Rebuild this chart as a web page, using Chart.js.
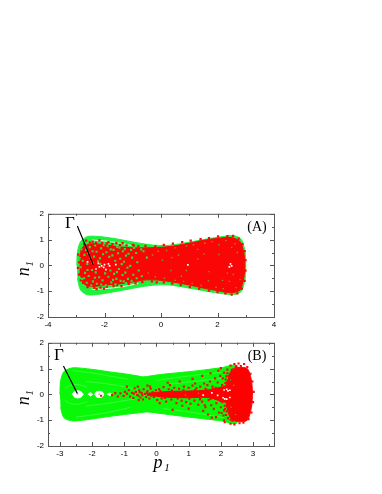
<!DOCTYPE html>
<html>
<head>
<meta charset="utf-8">
<script src="https://cdn.jsdelivr.net/npm/chart.js@4"></script>
<style>
    html, body { margin: 0; padding: 0; background: #fff; }
    #page { position: relative; width: 382px; height: 494px; overflow: hidden; }
    canvas { position: absolute; left: 0; filter: blur(0.35px); }
</style>
</head>
<body>
<div id="page">
    <canvas id="chartA"></canvas>
    <canvas id="chartB"></canvas>
</div>
<script>
// tick positions
const ticksAx = [-4, -3, -2, -1, 0, 1, 2, 3, 4];
const ticksBx = [-3, -2.5, -2, -1.5, -1, -0.5, 0, 0.5, 1, 1.5, 2, 2.5, 3, 3.5];
const ticksY = [-2, -1.5, -1, -0.5, 0, 0.5, 1, 1.5, 2];

// outline of the green orbits
const greenA = [[-2.98,0],[-2.96,0.5],[-2.85,0.92],[-2.6,1.12],[-2.2,1.12],[-1.7,1.05],[-1.2,0.95],[-0.7,0.85],[-0.2,0.78],[0.3,0.78],[1,0.9],[1.6,1.02],[2.2,1.12],[2.6,1.15],[2.85,1],[2.98,0.5],[3,0],[2.98,-0.5],[2.85,-1],[2.6,-1.13],[2.2,-1.1],[1.6,-1],[1,-0.88],[0.3,-0.76],[-0.2,-0.76],[-0.7,-0.83],[-1.2,-0.93],[-1.7,-1.03],[-2.2,-1.12],[-2.6,-1.14],[-2.85,-0.95],[-2.96,-0.5]];
const greenB = [[-3,0],[-2.98,0.5],[-2.88,0.88],[-2.6,1.03],[-2,0.97],[-1.5,0.88],[-1,0.8],[-0.6,0.72],[-0.4,0.68],[0,0.75],[0.5,0.82],[1,0.88],[1.5,0.95],[2,1.03],[2.5,1.1],[2.5,-1.1],[2,-1.02],[1.5,-0.95],[1,-0.88],[0.5,-0.8],[0,-0.72],[-0.3,-0.68],[-0.6,-0.72],[-1,-0.78],[-1.5,-0.86],[-2,-0.95],[-2.6,-1.03],[-2.88,-0.9],[-2.98,-0.5]];

// solid parts of the red clouds
const coreA = [[-2.88,0.3],[-2.78,0.7],[-2.45,0.84],[-2,0.8],[-1.5,0.72],[-1,0.68],[-0.5,0.68],[0,0.7],[0.5,0.76],[1,0.86],[1.5,0.97],[2,1.05],[2.5,1.08],[2.8,0.92],[2.93,0.5],[2.97,0],[2.93,-0.5],[2.8,-0.95],[2.5,-1.06],[2,-0.98],[1.5,-0.88],[1,-0.76],[0.5,-0.66],[0,-0.58],[-0.5,-0.56],[-1,-0.64],[-1.5,-0.72],[-2,-0.76],[-2.45,-0.82],[-2.72,-0.72],[-2.88,-0.3]];
const coreB = [[2.3,0.9],[2.5,1.04],[2.82,1],[2.94,0.6],[2.98,0.1],[2.95,-0.5],[2.82,-1],[2.55,-1.06],[2.3,-0.92],[2.18,-0.45],[2.14,-0.1],[2.14,0.15],[2.18,0.5]];
const wedgeB = [[-0.3,0.04],[0.3,0.11],[1,0.13],[1.6,0.17],[2.25,0.3],[2.25,-0.3],[1.6,-0.12],[1,-0.13],[0.3,-0.11],[-0.3,-0.03]];

// red points roughening the cloud edge, panel A
const redA = [
[-2.65,0.96],[-2.42,0.92],[-2.18,0.97],[-1.86,0.9],[-1.58,0.86],[-2.72,0.82],[-2.52,0.88],[-2.3,0.87],[-2.08,0.86],[-1.92,0.85],[-1.72,0.82],[-1.45,0.8],[-1.22,0.78],[-1,0.8],[-0.8,0.74],[-0.55,0.76],[-1.36,0.86],[-0.96,0.77],
[-2.93,0.42],[-2.9,0.12],[-2.94,-0.1],[-2.9,-0.36],[-2.82,0.6],[-2.84,-0.58],[-2.76,-0.68],
[-2.6,-0.84],[-2.36,-0.87],[-2.14,-0.86],[-1.92,-0.82],[-1.68,-0.8],[-1.4,-0.8],[-2.28,-0.92],[-2.02,-0.9],[-1.14,-0.73],[-0.9,-0.7],[-0.66,-0.65],[-0.32,-0.62],[-1.56,-0.76],[-2.52,-0.76],
[-0.2,0.74],[0.1,0.8],[0.42,0.84],[0.75,0.9],[1.05,0.96],[1.4,1.02],[1.7,1.06],[2.02,1.12],[2.35,1.13],[2.55,1.14],[2.75,1.04],[2.88,0.82],[2.96,0.55],[2.99,0.2],[2.99,-0.2],[2.96,-0.6],[2.86,-0.9],[2.7,-1.08],[2.5,-1.13],[2.28,-1.08],[2,-1.04],[1.7,-0.98],[1.35,-0.9],[1.02,-0.84],[0.7,-0.76],[0.4,-0.7],[0.1,-0.66],[-0.15,-0.66]
];
// green showing through the red, left of panel A
const specksGreenA = [
[-2.82,0.62],[-2.71,0.41],[-2.77,0.18],[-2.84,-0.07],[-2.69,-0.29],[-2.79,-0.52],[-2.63,-0.67],[-2.52,0.71],[-2.57,0.47],[-2.49,0.29],[-2.61,0.06],[-2.44,-0.18],[-2.56,-0.41],[-2.41,-0.62],
[-2.33,0.77],[-2.28,0.53],[-2.37,0.34],[-2.23,0.16],[-2.31,-0.27],[-2.19,-0.46],[-2.27,-0.71],[-2.12,0.66],[-2.05,0.43],[-2.16,0.27],[-1.98,-0.31],[-2.07,-0.58],[-1.95,-0.77],[-1.89,0.74],[-1.93,0.51],[-1.83,0.33],
[-1.79,-0.2],[-1.86,-0.44],[-1.76,-0.66],[-1.68,0.6],[-1.72,0.39],[-1.62,0.18],[-1.66,-0.33],[-1.58,-0.52],[-1.61,-0.73],[-1.47,0.69],[-1.52,0.47],[-1.44,0.26],[-1.39,0.05],[-1.49,-0.14],[-1.36,-0.37],[-1.43,-0.6],
[-1.28,0.63],[-1.24,0.38],[-1.31,0.14],[-1.19,-0.09],[-1.26,-0.28],[-1.17,-0.52],[-1.24,-0.68],[-1.06,0.6],[-1.02,0.3],[-1.09,-0.02],[-0.98,-0.36],[-1.04,-0.6],[-0.88,0.48],[-0.84,0.12],[-0.79,-0.2],[-0.86,-0.5],[-0.62,0.55],[-0.68,-0.42],[-0.5,0.3],
[-2.88,0.28],[-2.65,0.6],[-2.42,0.55],[-2.6,-0.18],[-2.72,-0.5],[-2.47,-0.78],[-2.12,-0.74],[-2.03,0.78],[-1.78,0.62],[-1.55,0.72],[-2.42,0.1],[-1.35,0.55],[-1.7,-0.56],[-2.34,-0.48],[-2.15,0.06],[-1.15,0.45],[-1.56,-0.26],[-1.32,-0.62],[-0.95,0.68],[-0.7,0.62]
];
// darker, half covered specks in the dense part of panel A
const specksOliveA = [[-0.3,0.4],[-0.1,0.55],[0.2,0.58],[0.5,0.68],[0.62,0.4],[0.9,0.75],[1.15,0.8],[1.3,0.62],[1.55,0.86],[1.8,0.92],[2.05,0.8],[2.3,0.96],[2.62,0.84],[0.05,0.2],[-0.45,-0.3],[-0.2,-0.44],[0.12,-0.5],[0.35,-0.2],[0.5,-0.58],[0.8,-0.62],[1.1,-0.7],[1.42,-0.78],[1.68,-0.6],[1.95,-0.85],[2.2,-0.9],[2.42,-0.62],[2.66,-0.86],[2.35,-0.3],[2.7,0.5],[2.05,0.42],[1.3,0.25],[0.9,-0.2],[1.7,-0.24],[2.5,0.7],[2.18,-0.58],[2.8,-0.55],[2.56,-0.35],[1.52,0.44],[0.38,0.3],[0.72,-0.42]];
const specksWhiteA = [[-2.22,0.08],[-2.1,-0.02],[-2,0.03],[-1.82,-0.02],[-2.3,-0.14],[-1.95,-0.16],[-2.18,-0.06],[-2.6,0.14],[-1.86,0.06],[-1.6,0.03],[-2.03,-0.08],[2.46,0.06],[2.5,-0.02],[2.42,-0.06],[0.95,0.02]];

// red points, panel B
const redB = [
[-1.72,-0.05],[-1.38,-0.03],[-1.12,0.04],[-1.02,-0.06],[-0.98,0.1],[-0.92,0.02],[-0.86,0.16],[-0.82,-0.08],[-0.76,0.06],[-0.72,-0.14],[-0.68,0.24],[-0.64,0.1],[-0.6,-0.02],[-0.58,0.3],[-0.54,0.16],[-0.5,-0.12],[-0.46,0.06],[-0.42,-0.2],[-0.4,0.2],[-0.36,0.02],[-0.32,-0.1],[-0.28,0.12],[-0.22,-0.16],[-0.18,0.22],[-0.12,0.08],[-0.08,-0.1],[-0.02,0.16],[0.02,-0.22],[0.08,0.2],[0.16,-0.16],
[-0.7,0.03],[-0.56,-0.05],[-0.44,-0.03],[-0.52,0.09],[-0.3,0.07],[-0.16,-0.05],[0.12,0.14],[0.26,-0.14],[0.48,0.15],[0.66,-0.16],[0.84,0.16],[1.02,-0.17],[1.2,0.17],[1.36,-0.16],[1.52,0.22],[1.68,-0.18],[1.84,0.26],[2,-0.26],
[0.22,0.28],[0.3,-0.28],[0.38,0.2],[0.46,-0.2],[0.55,0.26],[0.62,-0.34],[0.7,0.22],[0.78,-0.24],[0.85,0.3],[0.92,-0.3],[1,0.26],[1.06,-0.36],[1.12,0.34],[1.18,-0.24],[1.24,0.24],[1.3,-0.4],[1.36,0.3],[1.42,-0.28],[1.48,0.42],[1.52,-0.5],[1.58,0.36],[1.62,-0.22],[1.66,0.5],[1.7,-0.42],[1.74,0.3],[1.78,-0.56],[1.82,0.62],[1.86,-0.34],[1.9,0.46],[1.94,-0.7],[1.98,0.72],[2,-0.5],[2.04,0.36],[2.08,-0.82],[2.1,0.84],[2.12,-0.44],[2.15,0.58],[2.18,-0.66],[2.2,0.96],[2.22,-0.92],[2.24,0.72],[2.26,-0.6],
[2.14,0.44],[2.17,0.7],[2.2,0.82],[2.13,-0.56],[2.16,-0.8],[2.2,-0.48],[2.28,0.62],[2.3,0.42],[2.22,0.36],[2.3,-0.72],[2.28,-0.44],[2.34,0.72],[2.38,0.96],[2.32,-0.82],[2.42,-1],[2.46,1.04],[2.36,-1.02],[2.06,0.62],[2.02,-0.72],[2.1,-0.62],
[1.68,0.82],[1.92,0.92],[2,1.02],[2.3,1.12],[2.42,1.18],[2.48,1.1],[2.62,1.1],[2.72,1.18],[2.82,1.06],[2.55,1.2],[1.42,0.72],[1.12,0.6],[0.72,0.5],[0.35,0.45],[-0.28,0.34],[-0.92,0.3],[0.5,-0.6],[1,-0.55],[1.45,-0.64],[1.6,-0.78],[1.85,-0.88],[2.12,-1.08],[2.3,-1.14],[2.42,-1.16],[2.58,-1.12],[2.7,-1.1],[2.86,-0.96],[2.95,-0.7],[3,-0.3],[3.02,0.1],[2.98,0.5],[2.92,0.8],[2.3,-0.98],[2.34,0.95],[2.28,0.8],[2.2,0.46],[2.16,-0.28],[1.95,-0.22],[1.75,0.22],[1.55,0.18],[1.35,-0.2],[2.12,0.3],[2.05,-0.3],[1.88,-0.16],[1.65,0.14],[2.1,-1],[1.72,-0.9],[1.5,-0.42],[1.2,0.42],[0.8,-0.44],[0.42,0.36],[0.1,-0.34],[-0.55,-0.22],[-0.2,0.3],[-1.28,0.05],[-1.2,-0.08]
];
const specksWhiteB = [[2.18,0.2],[2.28,0.16],[2.1,0.17],[2.22,0.14],[2.07,-0.13],[2.18,-0.18],[2.28,-0.12],[2.12,-0.17],[1.72,0.06],[1.45,-0.03],[1.9,-0.04]];
const specksGreenB = [[2.4,0.35],[2.32,-0.5],[2.45,-0.78],[2.3,0.55],[1.3,0.04],[0.9,-0.03]];

// pale gaps between the orbits
const gapA1 = [[-2.45,0.98],[-2,0.95],[-1.5,0.87],[-1,0.76]];
const gapA2 = [[-2.45,-0.93],[-2,-0.9],[-1.4,-0.83],[-0.8,-0.7]];
const gapB1 = [[-2.6,0.92],[-2,0.83],[-1.4,0.7],[-0.9,0.6]];
const gapB2 = [[-2.2,0.5],[-1.6,0.42],[-1,0.3],[-0.6,0.2]];
const gapB3 = [[0,0.55],[0.6,0.65],[1.3,0.76],[2,0.85]];
const gapB4 = [[-2.5,-0.88],[-1.8,-0.76],[-1.2,-0.62],[-0.8,-0.5]];
const gapB5 = [[0.2,-0.55],[0.9,-0.66],[1.5,-0.78],[2.1,-0.9]];
const gapB6 = [[0.4,0.4],[1,0.48],[1.5,0.55],[2,0.62]];
const gapB7 = [[-2.2,-0.45],[-1.6,-0.36],[-1,-0.24],[-0.7,-0.18]];
const haloB1 = [[-2.85,0.22],[-2.7,0.34],[-2.45,0.38],[-2.15,0.28]];
const haloB2 = [[-2.85,-0.22],[-2.7,-0.34],[-2.45,-0.38],[-2.15,-0.28]];

// white holes around the fixed points, panel B
const holeB1 = [[-2.62,0],[-2.56,0.1],[-2.45,0.14],[-2.34,0.1],[-2.28,0],[-2.34,-0.1],[-2.45,-0.14],[-2.56,-0.1]];
const holeB2 = [[-1.92,0],[-1.88,0.09],[-1.78,0.12],[-1.68,0.09],[-1.64,0],[-1.68,-0.09],[-1.78,-0.12],[-1.88,-0.09]];
const holeB3 = [[-2.13,0],[-2.06,0.07],[-1.99,0],[-2.06,-0.07]];
const holeB4 = [[-1.54,0],[-1.46,0.05],[-1.38,0],[-1.46,-0.05]];
const centersB = [[-2.45,0.02],[-1.78,0.01]];

const leaderA = [[-2.96, 1.53], [-2.4, 0.03]];
const leaderB = [[-2.89, 1.1], [-2.46, 0.04]];

const toPoints = rows => rows.map(r => ({ x: r[0], y: r[1] }));

function shape(rows, color) {
    return { data: toPoints(rows), showLine: true, fill: "shape", backgroundColor: color, borderColor: color, borderWidth: 1, pointRadius: 0, tension: 0.25 };
}
function curve(rows, color, width) {
    return { data: toPoints(rows), showLine: true, fill: false, borderColor: color, borderWidth: width, pointRadius: 0, tension: 0.4 };
}
function dots(rows, color, radius) {
    return { data: toPoints(rows), showLine: false, pointStyle: "rect", pointRadius: radius, pointBackgroundColor: color, pointBorderWidth: 0 };
}

// inward ticks, frame and the hand placed labels
const frame = {
    id: "frame",
    afterDraw(chart, args, opts) {
        const { ctx, chartArea: a, scales } = chart;
        ctx.save();
        ctx.strokeStyle = "#555";
        ctx.lineWidth = 1;
        ctx.strokeRect(a.left + 0.5, a.top + 0.5, a.right - a.left, a.bottom - a.top);
        scales.x.ticks.forEach(t => {
            const px = Math.round(scales.x.getPixelForValue(t.value)) + 0.5;
            const len = t.label ? 4 : 2;
            ctx.beginPath();
            ctx.moveTo(px, a.bottom); ctx.lineTo(px, a.bottom - len);
            ctx.moveTo(px, a.top); ctx.lineTo(px, a.top + len);
            ctx.stroke();
        });
        scales.y.ticks.forEach(t => {
            const py = Math.round(scales.y.getPixelForValue(t.value)) + 0.5;
            const len = t.label ? 4 : 2;
            ctx.beginPath();
            ctx.moveTo(a.left, py); ctx.lineTo(a.left + len, py);
            ctx.moveTo(a.right, py); ctx.lineTo(a.right - len, py);
            ctx.stroke();
        });
        ctx.fillStyle = "#000";
        ctx.textAlign = "center";
        ctx.textBaseline = "alphabetic";
        ctx.font = "17px 'Liberation Serif'";
        ctx.fillText("Γ", opts.gammaX, opts.gammaY);
        ctx.font = "14px 'Liberation Serif'";
        ctx.fillText(opts.tag, a.right - 17, a.top + 17);
        // y title
        ctx.save();
        ctx.translate(29, a.top + 58);
        ctx.rotate(-Math.PI / 2);
        ctx.font = "italic 18px 'Liberation Serif'";
        ctx.fillText("n", 0, 0);
        ctx.font = "italic 11px 'Liberation Serif'";
        ctx.fillText("1", 8, 4);
        ctx.restore();
        if (opts.xTitle) {
            ctx.font = "italic 18px 'Liberation Serif'";
            ctx.fillText("p", a.left + 110, a.bottom + 22);
            ctx.font = "italic 11px 'Liberation Serif'";
            ctx.fillText("1", a.left + 119, a.bottom + 25);
        }
        ctx.restore();
    }
};

function makeChart(id, top, height, datasets, xMin, xMax, xTicks, xLabel, opts) {
    const canvas = document.getElementById(id);
    canvas.style.top = top + "px";
    canvas.style.width = "382px";
    canvas.style.height = height + "px";
    canvas.width = 382;
    canvas.height = height;
    return new Chart(canvas, {
        type: "scatter",
        // chart.js paints the first dataset last, so flip the back-to-front lists
        data: { datasets: datasets.slice().reverse() },
        plugins: [frame],
        options: {
            responsive: false,
            animation: false,
            layout: { padding: { left: 0, right: 108, top: 6, bottom: 0 } },
            plugins: { legend: { display: false }, tooltip: { enabled: false }, frame: opts },
            scales: {
                x: {
                    type: "linear",
                    min: xMin,
                    max: xMax,
                    grid: { display: false, drawTicks: false },
                    border: { display: false },
                    afterBuildTicks: s => { s.ticks = xTicks.map(v => ({ value: v })); },
                    afterFit: s => { s.height = height - 6 - 106; },
                    ticks: {
                        autoSkip: false, maxRotation: 0, padding: 3, color: "#000",
                        font: { family: "'Liberation Sans'", size: 8 },
                        callback: xLabel
                    }
                },
                y: {
                    min: -2,
                    max: 2,
                    grid: { display: false, drawTicks: false },
                    border: { display: false },
                    afterBuildTicks: s => { s.ticks = ticksY.map(v => ({ value: v })); },
                    afterFit: s => { s.width = 48; },
                    ticks: {
                        autoSkip: false, padding: 4, color: "#000",
                        font: { family: "'Liberation Sans'", size: 8 },
                        callback: v => Number.isInteger(v) ? String(v) : ""
                    }
                }
            }
        }
    });
}

const datasetsA = [
    shape(greenA, "#1cf23c"),
    curve(gapA1, "#e8ffe8", 1),
    curve(gapA2, "#e8ffe8", 1),
    shape(coreA, "#fa0606"),
    dots(redA, "#f50a0a", 1.6),
    dots(specksGreenA, "#30dc30", 1.5),
    dots(specksOliveA, "#a08a20", 1),
    dots(specksWhiteA, "#ffffff", 1.2),
    curve(leaderA, "#000000", 1.2)
];

const datasetsB = [
    shape(greenB, "#08f808"),
    curve(gapB1, "#5cfb5c", 0.6),
    curve(gapB2, "#5cfb5c", 0.6),
    curve(gapB3, "#5cfb5c", 0.6),
    curve(gapB4, "#5cfb5c", 0.6),
    curve(gapB5, "#5cfb5c", 0.6),
    curve(gapB6, "#5cfb5c", 0.6),
    curve(gapB7, "#5cfb5c", 0.6),
    curve(haloB1, "#5cfb5c", 0.6),
    curve(haloB2, "#5cfb5c", 0.6),
    shape(holeB1, "#ffffff"),
    shape(holeB2, "#ffffff"),
    shape(holeB3, "#eaffea"),
    shape(holeB4, "#eaffea"),
    dots(centersB, "#30e030", 1),
    shape(wedgeB, "#ff0000"),
    shape(coreB, "#ff0000"),
    dots(redB, "#f50a0a", 1.5),
    dots(specksGreenB, "#3fc63f", 0.8),
    dots(specksWhiteB, "#ffffff", 1.2),
    curve(leaderB, "#000000", 1.2)
];

makeChart("chartA", 205, 135, datasetsA, -4, 4, ticksAx,
    v => v % 2 === 0 ? String(v) : "",
    { tag: "(A)", gammaX: 70, gammaY: 23, xTitle: false });

makeChart("chartB", 334, 160, datasetsB, -3.37, 3.65, ticksBx,
    v => Number.isInteger(v) ? String(v) : "",
    { tag: "(B)", gammaX: 59, gammaY: 26, xTitle: true });
</script>
</body>
</html>
